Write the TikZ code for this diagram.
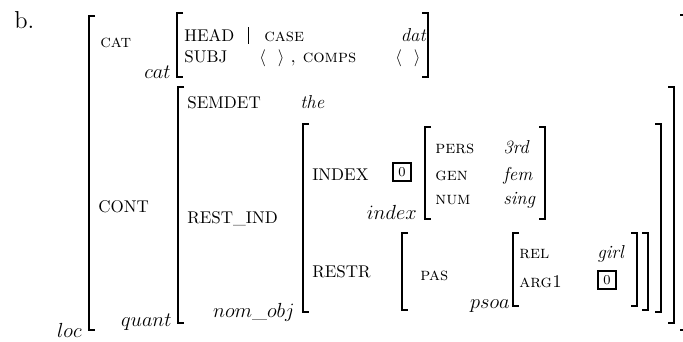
\documentclass[tikz,border=0pt]{standalone}
\usepackage{amsmath}
\usepackage{fontspec}
\begin{document}
\begin{tikzpicture}[x=0.588pt, y=-0.588pt,
    brak/.style={line width=1.1pt},
    feat/.style={anchor=base west, inner sep=0pt, font=\fontsize{10}{12}\selectfont},
    attr/.style={feat, font=\fontsize{10.5}{13}\selectfont\scshape\addfontfeatures{LetterSpace=8}},
    val/.style={feat, font=\fontsize{11}{13}\selectfont\itshape},
    type/.style={anchor=base east, inner sep=0pt, font=\large},
    tag/.style={draw, line width=1.2pt, inner sep=0pt, minimum size=10.5pt, font=\footnotesize}]
                \useasboundingbox (0,0) rectangle (683,341);

                % Example number
                \node[feat, font=\Large] (item) at (14,28) {b.};

                % loc
                \draw[brak] (95,16) -- (89,16) -- (89,330) -- (95,330);
                \draw[brak] (680,15) -- (686,15) -- (686,330) -- (680,330);
                \node[type] (loc) at (82,337) {$loc$};
                \node[attr] (catf) at (100,47) {cat};
                \node[feat] (cont) at (98,212) {CONT};

                % cat
                \draw[brak] (183,13) -- (177,13) -- (177,77) -- (183,77);
                \draw[brak] (422,13) -- (428,13) -- (428,77) -- (422,77);
                \node[type] (cattype) at (171,78) {$cat$};
                \node[feat] (head) at (184,41) {HEAD};
                \draw[line width=0.5pt] (248,27) -- (248,44);
                \node[attr] (case) at (264,41) {case};
                \node[val, anchor=base east] (dat) at (426,41) {dat};
                \node[feat] (subj) at (184,62) {SUBJ};
                \node[anchor=base, inner sep=0pt] (subjval) at (272,62) {$\langle\hspace{7pt}\rangle$};
                \node[attr] (comps) at (290,62) {,\ comps};
                \node[anchor=base, inner sep=0pt] (compsval) at (408,62) {$\langle\hspace{7pt}\rangle$};

                % quant
                \draw[brak] (184,87) -- (178,87) -- (178,323) -- (184,323);
                \draw[brak] (668,87) -- (674,87) -- (674,323) -- (668,323);
                \node[type] (quant) at (172,326) {$quant$};
                \node[feat] (semdet) at (187,108) {SEMDET};
                \node[val] (the) at (300,108) {the};
                \node[feat] (restind) at (187,223) {REST\_IND};

                % nom_obj
                \draw[brak] (309,124) -- (303,124) -- (303,312) -- (309,312);
                \draw[brak] (655,124) -- (661,124) -- (661,312) -- (655,312);
                \node[type] (nomobj) at (295,317) {$nom\_obj$};
                \node[feat] (index) at (312,180) {INDEX};
                \node[tag] (tagA) at (402,172) {0};
                \node[feat] (restr) at (312,277) {RESTR};

                % index
                \draw[brak] (431,127) -- (425,127) -- (425,219) -- (431,219);
                \draw[brak] (539,127) -- (545,127) -- (545,219) -- (539,219);
                \node[type] (indextype) at (417,219) {$index$};
                \node[attr] (pers) at (435,153) {pers};
                \node[val] (third) at (503,153) {3rd};
                \node[attr] (gen) at (435,180) {gen};
                \node[val] (fem) at (503,180) {fem};
                \node[attr] (num) at (435,204) {num};
                \node[val] (sing) at (503,204) {sing};

                % PAS
                \draw[brak] (408,233) -- (402,233) -- (402,310) -- (408,310);
                \draw[brak] (642,233) -- (648,233) -- (648,310) -- (642,310);
                \node[attr] (pas) at (420,280) {pas};

                % psoa
                \draw[brak] (519,233) -- (513,233) -- (513,306) -- (519,306);
                \draw[brak] (631,233) -- (637,233) -- (637,306) -- (631,306);
                \node[type] (psoa) at (510,308) {$psoa$};
                \node[attr] (rel) at (519,258) {rel};
                \node[val] (girl) at (597,258) {girl};
                \node[attr] (arg) at (519,287) {arg1};
                \node[tag] (tagB) at (607,280) {0};
            \end{tikzpicture}
\end{document}
